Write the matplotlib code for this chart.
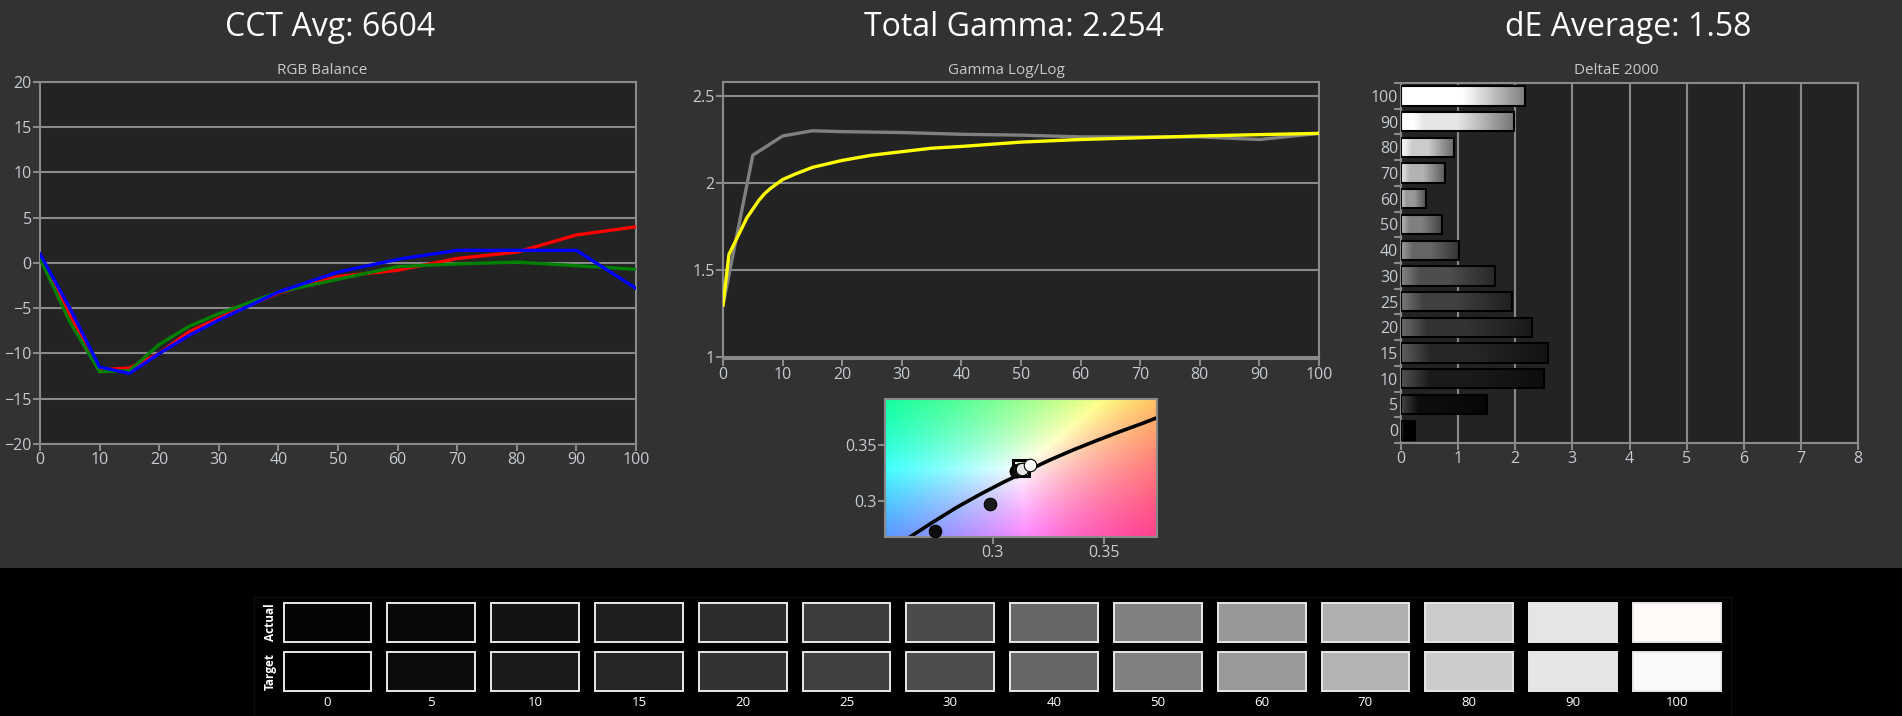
import numpy as np
import matplotlib
matplotlib.use("Agg")
import matplotlib.pyplot as plt
from matplotlib.patches import Rectangle
from matplotlib.colors import to_rgb
from matplotlib.ticker import FuncFormatter

plt.rcParams['font.family'] = ['Open Sans', 'DejaVu Sans']

# ---------------- data ----------------
rgb_x = [0, 5, 10, 15, 20, 25, 30, 40, 50, 60, 70, 80, 90, 100]
red_vals = [0.5, -5.8, -11.8, -11.6, -10.0, -7.6, -6.1, -3.3, -1.5, -0.8, 0.5, 1.2, 3.1, 4.0]
green_vals = [0.5, -6.5, -12.0, -11.9, -9.0, -7.0, -5.6, -3.2, -1.8, -0.4, -0.1, 0.1, -0.3, -0.7]
blue_vals = [1.0, -5.0, -11.5, -12.2, -10.0, -8.0, -6.3, -3.2, -1.0, 0.4, 1.4, 1.4, 1.4, -2.8]

gamma_actual_x = [0, 5, 10, 15, 20, 30, 40, 50, 60, 70, 80, 90, 100]
gamma_actual = [1.30, 2.16, 2.27, 2.30, 2.295, 2.29, 2.28, 2.275, 2.265, 2.265, 2.265, 2.25, 2.285]
gamma_target_x = [0, 1, 2, 3, 4, 5, 6, 7, 8, 10, 12, 15, 20, 25, 30, 35, 40, 50, 60, 70, 80, 90, 100]
gamma_target = [1.30, 1.59, 1.66, 1.73, 1.80, 1.85, 1.90, 1.94, 1.97, 2.02, 2.05, 2.09, 2.13,
                2.16, 2.18, 2.20, 2.21, 2.235, 2.25, 2.26, 2.27, 2.278, 2.285]

de_levels = ["0", "5", "10", "15", "20", "25", "30", "40", "50", "60", "70", "80", "90", "100"]
de_vals = [0.24, 1.51, 2.51, 2.58, 2.29, 1.94, 1.65, 1.02, 0.72, 0.44, 0.77, 0.93, 1.98, 2.17]

actual_colors = ["#050505", "#09090b", "#131313", "#1f1f1d", "#2d2d2d", "#3d3d3d", "#4b4b4b",
                 "#666666", "#808080", "#979998", "#afafaf", "#cbcbcb", "#e6e5e6", "#fffaf8"]
target_colors = ["#000000", "#0c0c0c", "#1a1a1a", "#262626", "#333333", "#404040", "#4d4d4d",
                 "#666666", "#808080", "#999999", "#b3b3b3", "#cccccc", "#e6e6e6", "#fafafa"]

locus_x = [0.2627, 0.2732, 0.2837, 0.2942, 0.3046, 0.3152, 0.3256, 0.3361, 0.3466, 0.3571, 0.3675, 0.3740]
locus_y = [0.2681, 0.2815, 0.2944, 0.3060, 0.3167, 0.3268, 0.3366, 0.3456, 0.3539, 0.3619, 0.3694, 0.3744]
cie_levels = [5, 10, 15, 20, 25, 30, 40, 50, 60, 70, 80, 90, 100]
cie_x = [0.2741, 0.2987, 0.3104, 0.3107, 0.3110, 0.3113, 0.3116, 0.3119, 0.3122, 0.3126, 0.3130, 0.3134, 0.3170]
cie_y = [0.2735, 0.2976, 0.3268, 0.3270, 0.3272, 0.3274, 0.3276, 0.3278, 0.3280, 0.3282, 0.3283, 0.3284, 0.3319]
target_white = (0.3127, 0.3300)

titles = ["CCT Avg: 6604", "Total Gamma: 2.254", "dE Average: 1.58"]

# ---------------- figure ----------------
W, H = 1902, 716
BG = '#323232'
AXBG = '#232323'
LINEC = '#8a8a8a'
LABC = '#c6cbd1'

fig = plt.figure(figsize=(W / 100, H / 100), dpi=100, facecolor=BG)


def box(l, t, r, b):
    return [l / W, 1 - b / H, (r - l) / W, (b - t) / H]


def style(ax):
    ax.set_facecolor(AXBG)
    for s in ax.spines.values():
        s.set_color(LINEC)
        s.set_linewidth(1.5)
    ax.tick_params(colors=LINEC, labelcolor=LABC, length=5, width=1.5, labelsize=11.5, pad=1)
    ax.set_axisbelow(True)


fmt = FuncFormatter(lambda v, p: f"{v:g}")

# bottom black strip
fig.patches.append(Rectangle((0, 0), 1, 148 / H, transform=fig.transFigure,
                             facecolor='black', edgecolor='none', zorder=-2))
fig.patches.append(Rectangle((254 / W, 0), (1731 - 254) / W, (716 - 597) / H,
                             transform=fig.transFigure, facecolor='none',
                             edgecolor='#0f0f0f', lw=1, zorder=-1))

# titles
for t, cx in zip(titles, [330, 1014, 1628]):
    fig.text(cx / W, 1 - 27 / H, t, ha='center', va='center', fontsize=23, color='white')
for t, cx in zip(["RGB Balance", "Gamma Log/Log", "DeltaE 2000"], [322, 1006, 1616]):
    fig.text(cx / W, 1 - 71 / H, t, ha='center', va='center', fontsize=11, color='#c8c8c8')

# ---- RGB balance ----
ax1 = fig.add_axes(box(40, 82, 636, 444))
style(ax1)
ax1.plot(rgb_x, red_vals, color='#ff0000', lw=2.4, zorder=3)
ax1.plot(rgb_x, green_vals, color='#008000', lw=2.4, zorder=4)
ax1.plot(rgb_x, blue_vals, color='#0000ff', lw=2.4, zorder=5)
ax1.set_xlim(0, 100)
ax1.set_ylim(-20, 20)
ax1.set_xticks(range(0, 101, 10))
ax1.set_yticks(range(-20, 21, 5))
ax1.yaxis.grid(True, color=LINEC, lw=1.5)

# ---- Gamma ----
ax2 = fig.add_axes(box(723, 82, 1319, 359))
style(ax2)
ax2.plot(gamma_actual_x, gamma_actual, color='#808080', lw=2.4, zorder=3)
ax2.plot(gamma_target_x, gamma_target, color='#ffff00', lw=2.4, zorder=4)
ax2.set_xlim(0, 100)
ax2.set_ylim(0.99, 2.58)
ax2.set_xticks(range(0, 101, 10))
ax2.set_yticks([1, 1.5, 2, 2.5])
ax2.yaxis.set_major_formatter(fmt)
ax2.yaxis.grid(True, color=LINEC, lw=1.5)

# ---- DeltaE ----
ax3 = fig.add_axes(box(1401, 83, 1858, 443))
style(ax3)
n = len(de_vals)
for i, (v, c) in enumerate(zip(de_vals, target_colors)):
    base = np.array(to_rgb(c))
    if i == n - 1:
        base = np.array([1.0, 1.0, 1.0])
    t = np.linspace(0, 1, 200)
    add = 0.22 * np.clip(1 - t / 0.2, 0, 1)
    mul = np.where(t < 0.5, 1.0, 1 - 0.5 * (t - 0.5) / 0.5)
    g = np.clip(base[None, :] * mul[:, None] + add[:, None], 0, 1)
    ax3.imshow(g[None, :, :], extent=(0, v, i - 0.375, i + 0.375), aspect='auto',
               origin='lower', zorder=2, interpolation='bilinear')
    ax3.add_patch(Rectangle((0, i - 0.375), v, 0.75, facecolor='none',
                            edgecolor='black', lw=1.5, zorder=3))
ax3.set_xlim(0, 8)
ax3.set_ylim(-0.5, n - 0.5)
ax3.set_xticks(range(0, 9))
ax3.set_yticks(range(n))
ax3.set_yticklabels(de_levels)
ax3.set_yticks(np.arange(-0.5, n, 1), minor=True)
ax3.tick_params(axis='y', which='major', length=0, pad=2)
ax3.tick_params(axis='y', which='minor', length=5, width=1.5, color=LINEC)
ax3.xaxis.grid(True, color=LINEC, lw=1.5)

# ---- CIE ----
ax4 = fig.add_axes(box(885, 399, 1157, 537))
style(ax4)
xl = (0.2515, 0.3740)
yl = (0.2681, 0.3911)
gx, gy = np.meshgrid(np.linspace(*xl, 240), np.linspace(*yl, 140))
X = gx / gy
Y = np.ones_like(gx)
Z = (1 - gx - gy) / gy
R = 3.2406 * X - 1.5372 * Y - 0.4986 * Z
G = -0.9689 * X + 1.8758 * Y + 0.0415 * Z
B = 0.0557 * X - 0.2040 * Y + 1.0570 * Z
img = np.clip(np.dstack([R, G, B]), 0, None)
img = img / img.max(axis=2, keepdims=True)
ax4.imshow(img, extent=(*xl, *yl), origin='lower', aspect='auto', zorder=0)
ax4.plot(locus_x, locus_y, color='black', lw=2.6, zorder=2, solid_joinstyle='round')
ax4.plot([target_white[0]], [target_white[1]], marker='s', ms=12, mfc='none',
         mec='black', mew=2.2, zorder=3)
for lv, x, y in zip(cie_levels, cie_x, cie_y):
    gcol = (lv / 100,) * 3
    ax4.plot([x], [y], marker='o', ms=9, mfc=gcol, mec='black', mew=0.8, zorder=4)
ax4.set_xlim(*xl)
ax4.set_ylim(*yl)
ax4.set_xticks([0.3, 0.35])
ax4.set_yticks([0.3, 0.35])
ax4.xaxis.set_major_formatter(fmt)
ax4.yaxis.set_major_formatter(fmt)

# ---- swatches ----
pitch = 103.8
c0 = 327.5
ax5 = fig.add_axes([0, 0, 1, 148 / H])
ax5.set_facecolor('none')
ax5.set_xlim(-c0 / pitch, (W - c0) / pitch)
ax5.set_ylim(716, 568)
ax5.axis('off')
sw = 87.8 / pitch
for i, (lab, ca, ct) in enumerate(zip(de_levels, actual_colors, target_colors)):
    ax5.add_patch(Rectangle((i - sw / 2, 602.7), sw, 39, facecolor=ca,
                            edgecolor='#e8e8e8', lw=1.4))
    ax5.add_patch(Rectangle((i - sw / 2, 652.3), sw, 39, facecolor=ct,
                            edgecolor='#e8e8e8', lw=1.4))
    ax5.text(i, 703, lab, ha='center', va='center', fontsize=9.5, color='white')
fig.text(270 / W, 1 - 622 / H, "Actual", rotation=90, ha='center', va='center',
         fontsize=8.5, color='white', fontweight='bold')
fig.text(270 / W, 1 - 672 / H, "Target", rotation=90, ha='center', va='center',
         fontsize=8.5, color='white', fontweight='bold')

fig.savefig('out.png', dpi=100, facecolor=BG)
